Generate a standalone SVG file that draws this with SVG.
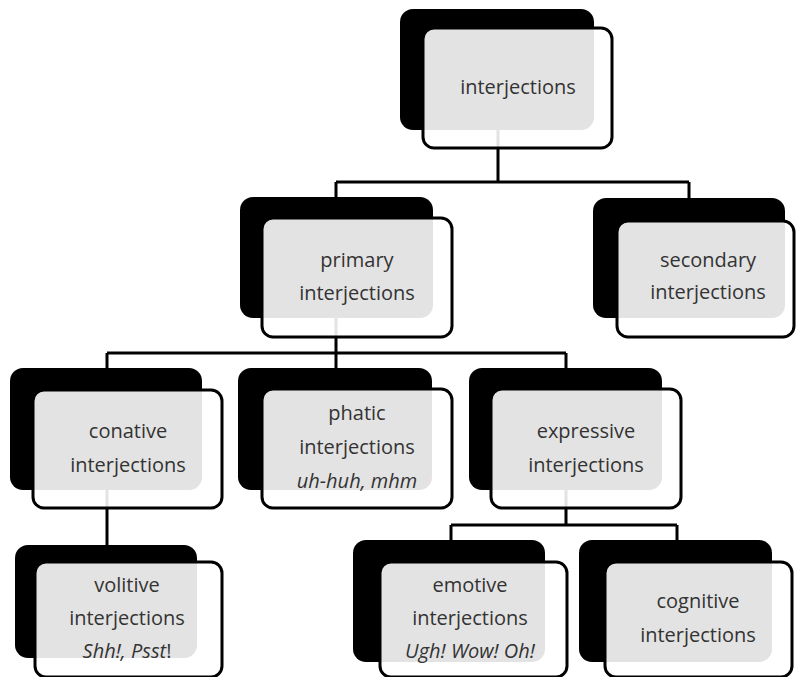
<svg xmlns="http://www.w3.org/2000/svg" width="796" height="677" viewBox="0 0 796 677">
<style>
.back{fill:#000}
.front{fill:#fff;fill-opacity:0.89;stroke:#000;stroke-width:3}
.conn{fill:none;stroke:#000;stroke-width:3}
text{font-family:"Open Sans","Noto Sans","Liberation Sans",sans-serif;font-size:20px;fill:#333;text-anchor:middle}
.it{font-style:italic}
.up{font-style:normal}
</style>
<rect width="796" height="677" fill="#fff"/>
<g id="connectors">
<path class="conn" d="M498,130V182M336,182H689M336,182V198M689,182V198"/>
<path class="conn" d="M336,318V353M107,353H566M107,353V369M336,353V369M566,353V369"/>
<path class="conn" d="M107,490V546"/>
<path class="conn" d="M566,490V525M451,525H677M451,525V541M677,525V541"/>
</g>
<g id="interjections">
<rect class="back" x="400" y="9" width="194" height="121" rx="13"/>
<rect class="front" x="423" y="28" width="189" height="120" rx="11"/>
<text x="518" y="94">interjections</text>
</g>
<g id="primary">
<rect class="back" x="240" y="197" width="193" height="121" rx="13"/>
<rect class="front" x="262" y="218" width="190" height="119" rx="11"/>
<text x="357" y="267">primary</text>
<text x="357" y="300">interjections</text>
</g>
<g id="secondary">
<rect class="back" x="593" y="198" width="192" height="120" rx="13"/>
<rect class="front" x="617" y="221" width="177" height="116" rx="11"/>
<text x="708" y="267">secondary</text>
<text x="708" y="299">interjections</text>
</g>
<g id="conative">
<rect class="back" x="10" y="368" width="192" height="122" rx="13"/>
<rect class="front" x="33" y="390" width="189" height="118" rx="11"/>
<text x="128" y="438">conative</text>
<text x="128" y="472">interjections</text>
</g>
<g id="phatic">
<rect class="back" x="238" y="368" width="194" height="122" rx="13"/>
<rect class="front" x="262" y="389" width="190" height="119" rx="11"/>
<text x="357" y="420">phatic</text>
<text x="357" y="454">interjections</text>
<text class="it" x="357" y="488">uh-huh, mhm</text>
</g>
<g id="expressive">
<rect class="back" x="469" y="368" width="193" height="122" rx="13"/>
<rect class="front" x="491" y="389" width="190" height="119" rx="11"/>
<text x="586" y="438">expressive</text>
<text x="586" y="472">interjections</text>
</g>
<g id="volitive">
<rect class="back" x="15" y="545" width="182" height="113" rx="13"/>
<rect class="front" x="35" y="562" width="187" height="115" rx="11"/>
<text x="127" y="592">volitive</text>
<text x="127" y="625">interjections</text>
<text x="127" y="658"><tspan class="it">Shh!, Psst</tspan><tspan class="up">!</tspan></text>
</g>
<g id="emotive">
<rect class="back" x="353" y="540" width="192" height="122" rx="13"/>
<rect class="front" x="380" y="562" width="187" height="115" rx="11"/>
<text x="470" y="592">emotive</text>
<text x="470" y="625">interjections</text>
<text class="it" x="470" y="658">Ugh! Wow! Oh!</text>
</g>
<g id="cognitive">
<rect class="back" x="579" y="540" width="193" height="122" rx="13"/>
<rect class="front" x="605" y="562" width="187" height="115" rx="11"/>
<text x="698" y="608">cognitive</text>
<text x="698" y="642">interjections</text>
</g>
</svg>
